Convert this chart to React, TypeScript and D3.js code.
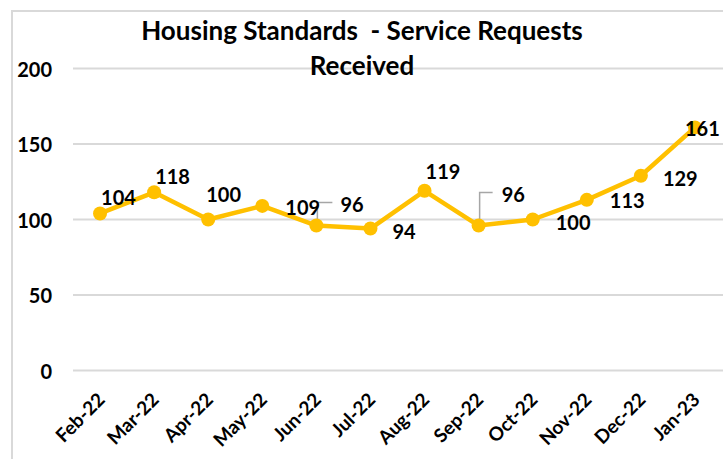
import { useEffect, useRef } from "react";
import * as d3 from "d3";

const months = ["Feb-22", "Mar-22", "Apr-22", "May-22", "Jun-22", "Jul-22", "Aug-22", "Sep-22", "Oct-22", "Nov-22", "Dec-22", "Jan-23"];
const requests = [104, 118, 100, 109, 96, 94, 119, 96, 100, 113, 129, 161];
const yTicks = [0, 50, 100, 150, 200];

// where each data label sits relative to its point (start x, centre y)
const labelOffsets = [
  [1, -16], [1, -16], [-2, -26], [23, 1], [24, -22], [22, 2],
  [1, -20], [23, -32], [23, 2], [23, 0], [22, 2], [-10, 1],
];
// leader lines (which points, height of the elbow, length of the arm)
const leaders = [
  { i: 4, up: -23, arm: 15 },
  { i: 7, up: -33, arm: 13 },
];

const font = "Lato, 'Open Sans', sans-serif";

function App() {
  const ref = useRef<SVGSVGElement>(null);

  useEffect(() => {
    const width = 723;
    const height = 459;
    const svg = d3.select(ref.current);
    svg.selectAll("*").remove();
    svg.attr("width", width).attr("height", height);

    svg.append("rect")
      .attr("x", 12).attr("y", 11)
      .attr("width", 740).attr("height", 470)
      .attr("fill", "white")
      .attr("stroke", "#d9d9d9")
      .attr("stroke-width", 2);

    const x = d3.scaleBand().domain(months).range([73, 722]);
    const y = d3.scaleLinear().domain([0, 200]).range([370.5, 68.5]);
    const cx = (m) => x(m) + x.bandwidth() / 2;

    // gridlines
    svg.append("g")
      .selectAll("line")
      .data(yTicks)
      .join("line")
      .attr("x1", 73).attr("x2", 723)
      .attr("y1", (d) => y(d)).attr("y2", (d) => y(d))
      .attr("stroke", "#d9d9d9")
      .attr("stroke-width", 2);

    // y labels
    svg.append("g")
      .selectAll("text")
      .data(yTicks)
      .join("text")
      .attr("x", 52)
      .attr("y", (d) => y(d))
      .attr("text-anchor", "end")
      .attr("dominant-baseline", "central")
      .attr("font-family", font)
      .attr("font-weight", "bold")
      .attr("font-size", 20)
      .attr("fill", "#000")
      .text((d) => d);

    // x labels
    svg.append("g")
      .selectAll("text")
      .data(months)
      .join("text")
      .attr("transform", (d) => `translate(${cx(d) + 6},${401}) rotate(-45)`)
      .attr("text-anchor", "end")
      .attr("font-family", font)
      .attr("font-weight", "bold")
      .attr("font-size", 19)
      .attr("fill", "#000")
      .text((d) => d);

    // title
    const title = svg.append("text")
      .attr("text-anchor", "middle")
      .attr("font-family", font)
      .attr("font-weight", "bold")
      .attr("font-size", 26)
      .attr("fill", "#000")
      .style("white-space", "pre");
    title.append("tspan").attr("x", 362).attr("y", 40).text("Housing Standards  - Service Requests");
    title.append("tspan").attr("x", 362).attr("y", 75).text("Received");

    // leader lines
    svg.append("g")
      .selectAll("path")
      .data(leaders)
      .join("path")
      .attr("d", (d) => {
        const px = cx(months[d.i]) + 1;
        const py = y(requests[d.i]);
        return `M${px},${py - 3}V${py + d.up}H${px + d.arm}`;
      })
      .attr("fill", "none")
      .attr("stroke", "#a6a6a6")
      .attr("stroke-width", 1.5);

    // line
    const line = d3.line<number>()
      .x((d, i) => cx(months[i]))
      .y((d) => y(d));
    svg.append("path")
      .datum(requests)
      .attr("d", line)
      .attr("fill", "none")
      .attr("stroke", "#ffc000")
      .attr("stroke-width", 4.5)
      .attr("stroke-linejoin", "round");

    svg.append("g")
      .selectAll("circle")
      .data(requests)
      .join("circle")
      .attr("cx", (d, i) => cx(months[i]))
      .attr("cy", (d) => y(d))
      .attr("r", 7)
      .attr("fill", "#ffc000");

    // data labels
    svg.append("g")
      .selectAll("text")
      .data(requests)
      .join("text")
      .attr("x", (d, i) => cx(months[i]) + labelOffsets[i][0])
      .attr("y", (d, i) => y(d) + labelOffsets[i][1])
      .attr("dominant-baseline", "central")
      .attr("font-family", font)
      .attr("font-weight", "bold")
      .attr("font-size", 20)
      .attr("fill", "#000")
      .text((d) => d);
  }, []);

  return (
    <svg ref={ref} style={{ position: "absolute", left: 0, top: 0 }}></svg>
  );
}

export default App;
